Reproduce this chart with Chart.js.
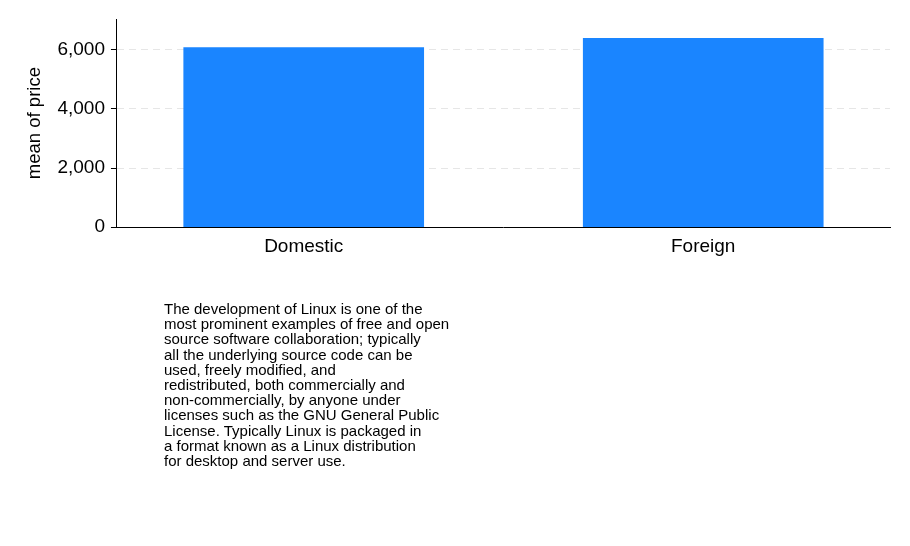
<!DOCTYPE html>
<html>
<head>
<meta charset="utf-8">
<script src="https://cdn.jsdelivr.net/npm/chart.js@4"></script>
<style>
  body { margin: 0; background: #fff; }
  #wrap { position: relative; width: 910px; height: 546px; }
  #note {
    position: absolute; left: 164px; top: 301px;
    font-family: "Liberation Sans", Arial, sans-serif;
    font-size: 15px; line-height: 15.2px; color: #000;
  }
</style>
</head>
<body>
<div id="wrap">
  <canvas id="barGraph" width="910" height="546"></canvas>
  <div id="note">
    The development of Linux is one of the<br>
    most prominent examples of free and open<br>
    source software collaboration; typically<br>
    all the underlying source code can be<br>
    used, freely modified, and<br>
    redistributed, both commercially and<br>
    non-commercially, by anyone under<br>
    licenses such as the GNU General Public<br>
    License. Typically Linux is packaged in<br>
    a format known as a Linux distribution<br>
    for desktop and server use.
  </div>
</div>
<script>
  var categories = ['Domestic', 'Foreign'];
  var meanPrice = [6072, 6385];
  var yTicks = [0, 2000, 4000, 6000];

  var font = { family: '"Liberation Sans", Arial, sans-serif', size: 19 };

  var data = {
    datasets: [{
      label: 'mean of price',
      backgroundColor: '#1a85ff',
      barThickness: 240,
      data: categories.map(function (c, i) { return { x: i, y: meanPrice[i] }; }),
    }]
  };

  const config = {
    type: 'bar',
    data: data,
    options: {
      responsive: false,
      animation: false,
      layout: { padding: { top: 19, right: 20, left: 13, bottom: 280 } },
      plugins: { legend: { display: false }, tooltip: { enabled: false } },
      scales: {
        x: {
          type: 'linear',
          offset: false,
          min: -0.4675,
          max: 1.4675,
          grid: { offset: false, drawOnChartArea: false, drawTicks: false },
          border: { color: '#000', width: 1 },
          ticks: {
            stepSize: 1,
            includeBounds: false,
            padding: 8,
            color: '#000',
            font: font,
            callback: function (v) { return categories[v]; }
          }
        },
        y: {
          min: 0,
          max: 7040,
          grid: {
            color: function (ctx) { return ctx.tick && ctx.tick.value === 0 ? 'rgba(0,0,0,0)' : '#e6e6e6'; },
            tickColor: '#000',
            tickLength: 6,
            tickBorderDash: [],
          },
          border: { color: '#000', width: 1, dash: [7, 5] },
          afterBuildTicks: function (axis) {
            axis.ticks = yTicks.map(function (v) { return { value: v }; });
          },
          ticks: {
            padding: 6,
            color: '#000',
            font: font,
            callback: function (v) { return v.toLocaleString('en-US'); }
          },
          title: {
            display: true,
            text: 'mean of price',
            color: '#000',
            font: { family: font.family, size: 18.5 },
            padding: { top: 10.6, bottom: 5.6 }
          }
        }
      }
    }
  };

  const myChart = new Chart(document.getElementById('barGraph'), config);
</script>
</body>
</html>
